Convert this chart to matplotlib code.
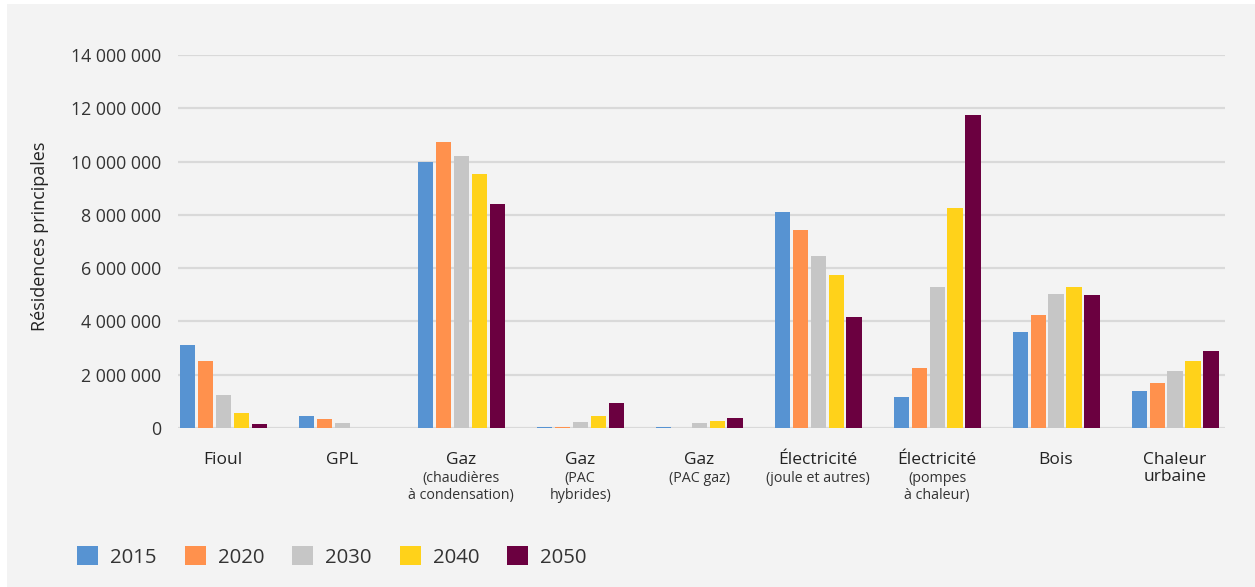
import matplotlib
matplotlib.use("Agg")
import matplotlib.pyplot as plt
import numpy as np
from matplotlib.patches import Rectangle, Patch
from matplotlib.ticker import FuncFormatter

plt.rcParams['font.family'] = ['Open Sans', 'DejaVu Sans']

categories = ["Fioul", "GPL", "Gaz", "Gaz", "Gaz", "Électricité", "Électricité", "Bois", "Chaleur\nurbaine"]
subtitles = ["", "", "(chaudières\nà condensation)", "(PAC\nhybrides)", "(PAC gaz)",
             "(joule et autres)", "(pompes\nà chaleur)", "", ""]
years = ["2015", "2020", "2030", "2040", "2050"]
colors = ["#5793d2", "#ff914d", "#c6c6c6", "#ffd21a", "#6b0040"]

v2015 = [3100000, 450000, 9980000, 20000, 20000, 8110000, 1150000, 3600000, 1400000]
v2020 = [2500000, 330000, 10720000, 20000, 10000, 7420000, 2240000, 4260000, 1700000]
v2030 = [1240000, 200000, 10220000, 220000, 170000, 6440000, 5310000, 5040000, 2150000]
v2040 = [570000, 10000, 9530000, 450000, 270000, 5750000, 8250000, 5300000, 2530000]
v2050 = [140000, 10000, 8400000, 950000, 390000, 4150000, 11730000, 4980000, 2900000]
series = [v2015, v2020, v2030, v2040, v2050]

yticks = [0, 2000000, 4000000, 6000000, 8000000, 10000000, 12000000, 14000000]

W, H = 1255, 587
fig = plt.figure(figsize=(W / 100, H / 100), dpi=100, facecolor="white")
fig.patches.append(Rectangle((7 / W, 0), 1, (H - 4) / H, transform=fig.transFigure,
                             facecolor="#f3f3f3", edgecolor="none", zorder=-5))

ax = fig.add_axes([178 / W, (H - 428) / H, (1225 - 178) / W, (428 - 55) / H])
ax.set_facecolor("none")
ax.set_zorder(2)

x = np.arange(len(categories))
pitch = 0.151
bw = 0.127
for i, (vals, c, yr) in enumerate(zip(series, colors, years)):
    ax.bar(x + (i - 2) * pitch, vals, width=bw, color=c, zorder=3, label=yr)

ax.set_xlim(-0.38, 8.42)
ax.set_ylim(0, 14000000)
ax.set_yticks(yticks)
ax.yaxis.set_major_formatter(FuncFormatter(lambda v, p: f"{int(v):,}".replace(",", " ")))
ax.grid(axis="y", color="#d9d9d9", linewidth=1.6, zorder=0)
ax.set_axisbelow(True)
ax.tick_params(axis="y", length=0, pad=12, labelsize=12.8, labelcolor="#333333")
for s in ax.spines.values():
    s.set_visible(False)

ax.set_xticks(x)
ax.set_xticklabels([])
ax.tick_params(axis="x", length=0)

trans = ax.get_xaxis_transform()
for xi, name, sub in zip(x, categories, subtitles):
    ax.text(xi, (428 - 452) / 373, name, transform=trans, ha="center", va="top",
            fontsize=12.5, color="#222222", linespacing=1.1)
    if sub:
        ax.text(xi, (428 - 471) / 373, sub, transform=trans, ha="center", va="top",
                fontsize=10.3, color="#333333", linespacing=1.15)

fig.text(40 / W, 1 - 236 / H, "Résidences principales", rotation=90, ha="center",
         va="center", fontsize=13, color="#222222")

handles = [Patch(facecolor=c, edgecolor="none") for c in colors]
fig.legend(handles, years, loc="center left", bbox_to_anchor=(77 / W, 1 - 557 / H),
           ncol=5, frameon=False, fontsize=14.7, handlelength=1.03, handleheight=1.0,
           handletextpad=0.59, columnspacing=1.37, borderpad=0, borderaxespad=0,
           labelcolor="#333333")

fig.savefig("out.png", dpi=100, facecolor=fig.get_facecolor())
